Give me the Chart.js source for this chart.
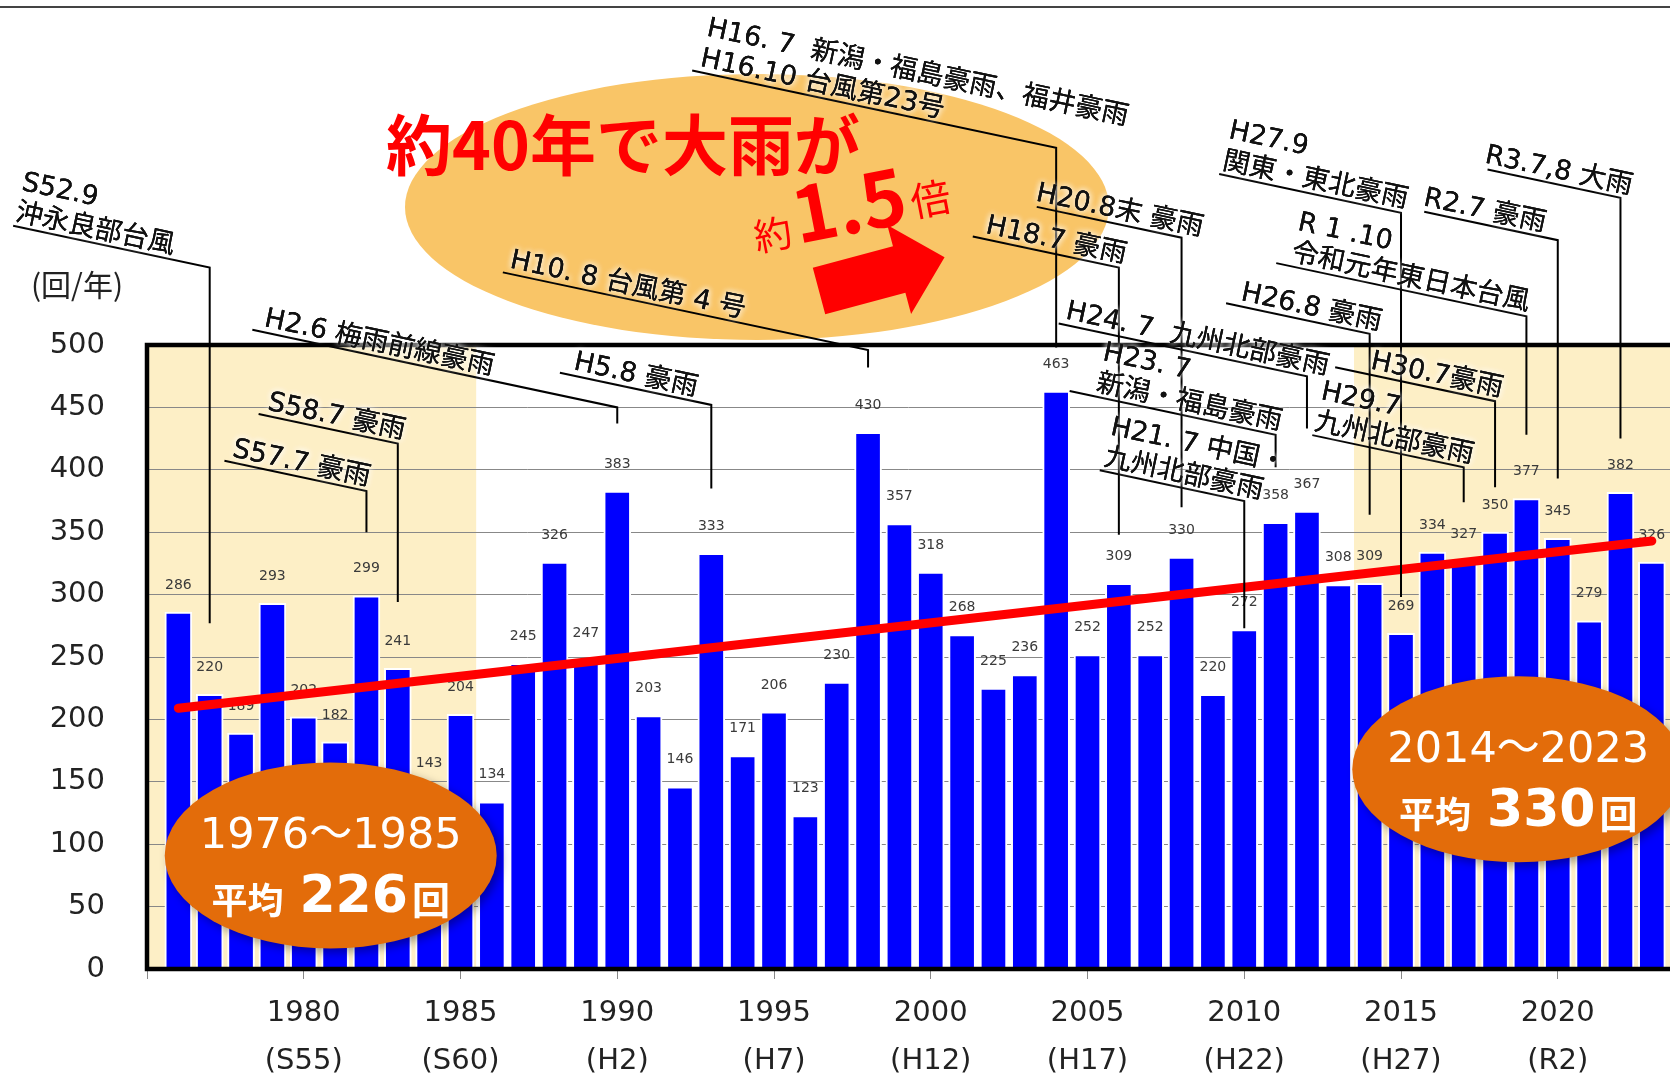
<!DOCTYPE html>
<html lang="ja">
<head>
<meta charset="utf-8">
<title>大雨の発生回数</title>
<script src="https://cdn.jsdelivr.net/npm/chart.js@4.4.1/dist/chart.umd.min.js"></script>
<style>
  html, body { margin: 0; padding: 0; background: #fff; }
  #grafico { display: block; }
</style>
</head>
<body>
<canvas id="grafico" width="1670" height="1079"></canvas>
<script>
// === DATOS ===
const anios = [1976, 1977, 1978, 1979, 1980, 1981, 1982, 1983, 1984, 1985,
  1986, 1987, 1988, 1989, 1990, 1991, 1992, 1993, 1994, 1995,
  1996, 1997, 1998, 1999, 2000, 2001, 2002, 2003, 2004, 2005,
  2006, 2007, 2008, 2009, 2010, 2011, 2012, 2013, 2014, 2015,
  2016, 2017, 2018, 2019, 2020, 2021, 2022, 2023];
const valores = [286, 220, 189, 293, 202, 182, 299, 241, 143, 204,
  134, 245, 326, 247, 383, 203, 146, 333, 171, 206,
  123, 230, 430, 357, 318, 268, 225, 236, 463, 252,
  309, 252, 330, 220, 272, 358, 367, 308, 309, 269,
  334, 327, 350, 377, 345, 279, 382, 326];

// tendencia (recta roja)
const tendenciaAnios = [1976, 2023];
const tendenciaValores = [209, 343];

// eje x
const ejeAnios = [1975, 1980, 1985, 1990, 1995, 2000, 2005, 2010, 2015, 2020];
const ejeEras = ['', '(S55)', '(S60)', '(H2)', '(H7)', '(H12)', '(H17)', '(H22)', '(H27)', '(R2)'];

// periodos sombreados
const periodos = [[1975, 1985.5], [2013.5, 2024]];
const periodosTexto = ['1976～1985', '2014～2023'];
const periodosPromedio = [226, 330];

// eventos (texto y año al que apuntan)
const eventosTexto = [
  ['S52.9', '沖永良部台風'],
  ['S57.7 豪雨'],
  ['S58.7 豪雨'],
  ['H2.6 梅雨前線豪雨'],
  ['H5.8 豪雨'],
  ['H10. 8 台風第 4 号'],
  ['H16. 7  新潟・福島豪雨、福井豪雨', 'H16.10 台風第23号'],
  ['H18.7 豪雨'],
  ['H20.8末 豪雨'],
  ['H24. 7  九州北部豪雨'],
  ['H23. 7', '新潟・福島豪雨'],
  ['H21. 7 中国・', '九州北部豪雨'],
  ['H26.8 豪雨'],
  ['H27.9', '関東・東北豪雨'],
  ['R 1 .10', '令和元年東日本台風'],
  ['R2.7 豪雨'],
  ['R3.7,8 大雨'],
  ['H29.7', '九州北部豪雨'],
  ['H30.7豪雨']
];
const eventosAnio = [1977, 1982, 1983, 1990, 1993, 1998, 2004, 2006, 2008, 2012,
  2011, 2010, 2014, 2015, 2019, 2020, 2022, 2017, 2018];

// geometría de las flechas de los eventos (inicio en años, codo y fin en valores del eje)
const eventosGeo = [
  { desde: 1970.73, codo: 562, fin: 277, dx: 0 },
  { desde: 1977.47, codo: 383, fin: 350, dx: 6 },
  { desde: 1978.56, codo: 421, fin: 294, dx: 7 },
  { desde: 1978.36, codo: 450, fin: 437, dx: 10 },
  { desde: 1988.17, codo: 452, fin: 385, dx: 12 },
  { desde: 1986.35, codo: 496, fin: 482, dx: 5 },
  { desde: 1992.39, codo: 658, fin: 498, dx: 6 },
  { desde: 2001.34, codo: 562, fin: 348, dx: 11 },
  { desde: 2003.38, codo: 586, fin: 370, dx: -3 },
  { desde: 2004.08, codo: 475, fin: 433, dx: 5 },
  { desde: 2004.43, codo: 428, fin: 402, dx: 25 },
  { desde: 2005.39, codo: 375, fin: 273, dx: 2 },
  { desde: 2009.42, codo: 509, fin: 364, dx: 13 },
  { desde: 2009.20, codo: 606, fin: 298, dx: 1 },
  { desde: 2011.02, codo: 523, fin: 428, dx: 13 },
  { desde: 2015.74, codo: 584, fin: 393, dx: -3 },
  { desde: 2017.76, codo: 618, fin: 425, dx: -5 },
  { desde: 2012.17, codo: 402, fin: 374, dx: 0 },
  { desde: 2012.90, codo: 455, fin: 386, dx: 34 }
];

const ANG = 12 * Math.PI / 180;
const TAN = Math.tan(ANG);
const LATIN = '"DejaVu Sans", "Noto Sans CJK JP", sans-serif';
const CJK = '"Noto Sans CJK JP", "DejaVu Sans", sans-serif';

Chart.defaults.font.family = LATIN;

function halo(ctx, txt, x, y) {
  ctx.save();
  ctx.shadowColor = '#ffffff';
  ctx.shadowBlur = 6;
  ctx.fillText(txt, x, y);
  ctx.fillText(txt, x, y);
  ctx.restore();
  ctx.fillText(txt, x, y);
}

// === FONDO: sombreado, elipse grande, título ===
const fondo = {
  id: 'fondo',
  beforeDraw(chart) {
    const { ctx, chartArea: a, scales: { x } } = chart;
    ctx.save();
    // linea superior
    ctx.strokeStyle = '#444';
    ctx.lineWidth = 2;
    ctx.beginPath(); ctx.moveTo(0, 7); ctx.lineTo(chart.width, 7); ctx.stroke();

    // periodos sombreados
    ctx.fillStyle = '#fdefc6';
    periodos.forEach(p => {
      const x0 = Math.max(x.getPixelForValue(p[0]), a.left);
      const x1 = Math.min(x.getPixelForValue(p[1]), chart.width);
      ctx.fillRect(x0, a.top, x1 - x0, a.bottom - a.top);
    });

    // elipse grande
    ctx.fillStyle = '#f9c567';
    ctx.beginPath(); ctx.ellipse(757, 207, 352, 133, 0, 0, Math.PI * 2); ctx.fill();

    // texto rojo
    ctx.fillStyle = '#ff0000';
    ctx.font = 'bold 66px ' + CJK;
    ctx.textAlign = 'center';
    ctx.textBaseline = 'alphabetic';
    ctx.fillText('約40年で大雨が', 623, 170);

    ctx.save();
    ctx.translate(757, 252);
    ctx.rotate(-11 * Math.PI / 180);
    ctx.textAlign = 'left';
    ctx.font = '38px ' + CJK;
    ctx.fillText('約', 0, 0);
    ctx.font = 'bold 76px ' + CJK;
    ctx.fillText('1.5', 42, 0);
    const w15 = ctx.measureText('1.5').width;
    ctx.font = '40px ' + CJK;
    ctx.fillText('倍', 42 + w15 + 4, -4);
    ctx.restore();

    // flecha roja
    ctx.save();
    ctx.translate(819, 291);
    ctx.rotate(-15 * Math.PI / 180);
    ctx.beginPath();
    ctx.moveTo(0, -24); ctx.lineTo(83, -24); ctx.lineTo(83, -46);
    ctx.lineTo(130, 0); ctx.lineTo(83, 46); ctx.lineTo(83, 24); ctx.lineTo(0, 24);
    ctx.closePath();
    ctx.fill();
    ctx.restore();

    // unidad
    ctx.fillStyle = '#222';
    ctx.font = '30px ' + CJK;
    ctx.textAlign = 'center';
    ctx.textBaseline = 'middle';
    ctx.fillText('(回/年)', 77, 285);
    ctx.restore();
  }
};

// === ETIQUETAS DE VALOR ===
const etiquetas = {
  id: 'etiquetas',
  afterDatasetDraw(chart, args) {
    if (args.index !== 0) return;
    const { ctx, scales: { x, y } } = chart;
    ctx.save();
    ctx.font = '14px ' + LATIN;
    ctx.fillStyle = '#3a3a3a';
    ctx.textAlign = 'center';
    ctx.textBaseline = 'middle';
    valores.forEach((v, i) => {
      ctx.fillText(String(v), x.getPixelForValue(anios[i]), y.getPixelForValue(v) - 27);
    });
    ctx.restore();
  }
};

// === MARCO Y ELIPSES DE PROMEDIO ===
const marco = {
  id: 'marco',
  afterDatasetsDraw(chart) {
    const { ctx, chartArea: a, scales: { x, y } } = chart;
    ctx.save();
    ctx.strokeStyle = '#000';
    ctx.lineWidth = 4.5;
    ctx.beginPath();
    ctx.moveTo(chart.width, a.top);
    ctx.lineTo(a.left, a.top);
    ctx.lineTo(a.left, a.bottom);
    ctx.lineTo(chart.width, a.bottom);
    ctx.stroke();

    const centros = [[x.getPixelForValue(1980.86), y.getPixelForValue(91)],
                     [x.getPixelForValue(2018.74), y.getPixelForValue(160)]];
    centros.forEach((c, i) => {
      const [cx, cy] = c;
      ctx.save();
      ctx.shadowColor = 'rgba(0,0,0,0.35)';
      ctx.shadowBlur = 10;
      ctx.shadowOffsetX = 4;
      ctx.shadowOffsetY = 4;
      ctx.fillStyle = '#e36c0a';
      ctx.beginPath(); ctx.ellipse(cx, cy, 166, 93, 0, 0, Math.PI * 2); ctx.fill();
      ctx.restore();

      ctx.fillStyle = '#ffffff';
      ctx.textBaseline = 'alphabetic';
      ctx.textAlign = 'center';
      ctx.font = '43px ' + LATIN;
      ctx.fillText(periodosTexto[i], cx, cy - 7);

      ctx.textAlign = 'left';
      const t1 = '平均', t2 = String(periodosPromedio[i]), t3 = '回';
      ctx.font = 'bold 36px ' + CJK; const w1 = ctx.measureText(t1).width;
      ctx.font = 'bold 52px ' + LATIN; const w2 = ctx.measureText(t2).width;
      ctx.font = 'bold 38px ' + CJK; const w3 = ctx.measureText(t3).width;
      let px = cx - (w1 + 16 + w2 + 4 + w3) / 2;
      const base = cy + 57;
      ctx.font = 'bold 36px ' + CJK; ctx.fillText(t1, px, base + 2); px += w1 + 16;
      ctx.font = 'bold 52px ' + LATIN; ctx.fillText(t2, px, base); px += w2 + 4;
      ctx.font = 'bold 38px ' + CJK; ctx.fillText(t3, px, base + 2);
    });
    ctx.restore();
  }
};

// === EVENTOS ===
const anotaciones = {
  id: 'anotaciones',
  afterDraw(chart) {
    const { ctx, scales: { x, y } } = chart;
    const pts = eventosAnio.map((anio, i) => {
      const g = eventosGeo[i];
      const xc = x.getPixelForValue(anio);
      const yc = y.getPixelForValue(g.codo);
      const xs = x.getPixelForValue(g.desde);
      return { xs, ys: yc - (xc - xs) * TAN, xc, yc, yf: y.getPixelForValue(g.fin) };
    });
    ctx.save();
    ctx.strokeStyle = '#000';
    ctx.lineWidth = 2;
    pts.forEach(p => {
      ctx.beginPath();
      ctx.moveTo(p.xs, p.ys);
      ctx.lineTo(p.xc, p.yc);
      ctx.lineTo(p.xc, p.yf);
      ctx.stroke();
    });
    ctx.font = '27px ' + LATIN;
    ctx.fillStyle = '#111';
    ctx.textAlign = 'left';
    ctx.textBaseline = 'alphabetic';
    pts.forEach((p, i) => {
      const lineas = eventosTexto[i];
      ctx.save();
      ctx.translate(p.xs, p.ys);
      ctx.rotate(ANG);
      lineas.forEach((t, k) => {
        halo(ctx, t, eventosGeo[i].dx, -6 - (lineas.length - 1 - k) * 31);
      });
      ctx.restore();
    });
    ctx.restore();
  }
};

// === GRÁFICO ===
new Chart(document.getElementById('grafico'), {
  type: 'bar',
  data: {
    datasets: [
      {
        type: 'bar',
        data: anios.map((a, i) => ({ x: a, y: valores[i] })),
        backgroundColor: '#0000ff',
        borderColor: '#ffffff',
        borderWidth: 2,
        borderSkipped: 'start',
        barThickness: 27,
        order: 2
      },
      {
        type: 'line',
        data: tendenciaAnios.map((a, i) => ({ x: a, y: tendenciaValores[i] })),
        borderColor: '#ff0000',
        borderWidth: 9,
        borderCapStyle: 'round',
        pointRadius: 0,
        order: 1
      }
    ]
  },
  options: {
    responsive: false,
    animation: false,
    layout: { padding: { top: 345, right: 0, bottom: 0, left: 0 } },
    plugins: { legend: { display: false }, tooltip: { enabled: false } },
    scales: {
      x: {
        type: 'linear',
        offset: false,
        min: 1975,
        max: 2023.58,
        afterFit: s => { s.height = 110; },
        afterBuildTicks: s => { s.ticks = ejeAnios.map(v => ({ value: v })); },
        grid: { drawOnChartArea: false, offset: false, color: '#888', tickLength: 10 },
        border: { display: false },
        ticks: {
          autoSkip: false,
          maxRotation: 0,
          padding: 11,
          color: '#222',
          font: { size: 29, lineHeight: 1.65 },
          callback: v => {
            const k = ejeAnios.indexOf(v);
            return k <= 0 ? '' : [String(v), ejeEras[k]];
          }
        }
      },
      y: {
        min: 0,
        max: 500,
        afterFit: s => { s.width = 147; },
        grid: { color: '#888', lineWidth: 1, drawTicks: false },
        border: { display: false },
        ticks: { stepSize: 50, padding: 42, color: '#222', font: { size: 29 } }
      }
    }
  },
  plugins: [fondo, etiquetas, marco, anotaciones]
});
</script>
</body>
</html>
